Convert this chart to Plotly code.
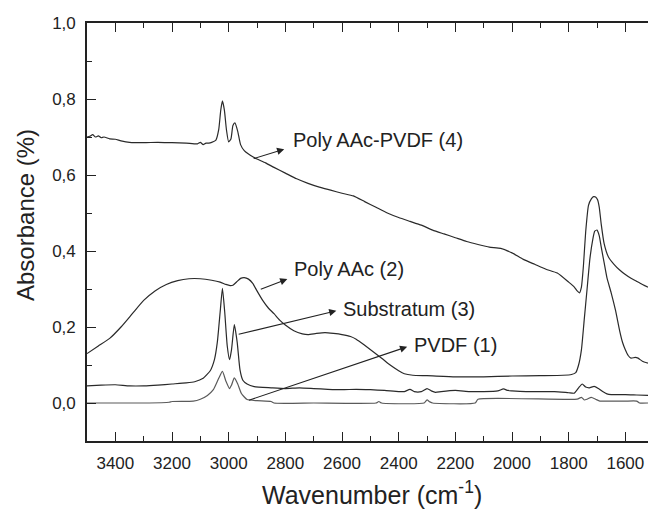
import plotly.graph_objects as go

# ---------------- data ----------------
pvdf_wn = [3500, 3300, 3210, 3200, 3125, 3100, 3075, 3054, 3035, 3022, 3010, 2997, 2990, 2980, 2968,
           2955, 2935, 2900, 2850, 2840, 2700, 2480, 2470, 2460, 2310, 2300, 2290, 2280, 2130, 2120,
           1770, 1755, 1745, 1735, 1720, 1705, 1690, 1650, 1600, 1560, 1550, 1520]
pvdf_ab = [0.0, 0.0, 0.002, 0.004, 0.005, 0.01, 0.02, 0.035, 0.065, 0.083, 0.058, 0.038, 0.047, 0.066, 0.05,
           0.025, 0.009, 0.006, 0.004, 0.0, 0.0, 0.0, 0.004, 0.0, 0.0, 0.008, 0.003, 0.0, 0.0, 0.01,
           0.01, 0.015, 0.008, 0.01, 0.015, 0.01, 0.005, 0.005, 0.005, 0.005, 0.0, 0.0]

paac_wn = [3500, 3460, 3420, 3380, 3340, 3300, 3260, 3220, 3180, 3140, 3100, 3060, 3030, 3010, 2995,
           2985, 2970, 2958, 2945, 2930, 2915, 2900, 2880, 2860, 2840, 2820, 2800, 2770, 2740, 2720,
           2690, 2660, 2630, 2600, 2570, 2550, 2520, 2490, 2460, 2430, 2400, 2380, 2350, 2300, 2200,
           2100, 2000, 1900, 1820, 1790, 1775, 1765, 1755, 1745, 1735, 1725, 1715, 1708, 1700, 1692,
           1685, 1675, 1665, 1650, 1635, 1620, 1610, 1600, 1590, 1580, 1565, 1555, 1540, 1520]
paac_ab = [0.13, 0.15, 0.17, 0.20, 0.235, 0.27, 0.295, 0.312, 0.322, 0.327, 0.327, 0.323, 0.318, 0.312, 0.309,
           0.31, 0.32, 0.328, 0.33, 0.326, 0.315, 0.295, 0.27, 0.25, 0.235, 0.218, 0.205, 0.19, 0.182, 0.18,
           0.183, 0.185, 0.183, 0.18, 0.175, 0.168, 0.152, 0.135, 0.118, 0.1, 0.085, 0.077, 0.073, 0.072, 0.069,
           0.069, 0.071, 0.072, 0.073, 0.075, 0.08, 0.1, 0.14, 0.22, 0.3, 0.38, 0.43, 0.452, 0.455, 0.44,
           0.41, 0.37, 0.33, 0.29, 0.245, 0.19, 0.16, 0.14, 0.125, 0.118, 0.12, 0.118, 0.11, 0.105]

sub_wn = [3500, 3450, 3400, 3350, 3300, 3250, 3200, 3150, 3120, 3090, 3065, 3050, 3040, 3030, 3022,
          3014, 3005, 2997, 2990, 2980, 2970, 2960, 2950, 2935, 2910, 2850, 2800, 2750, 2700, 2650,
          2600, 2550, 2500, 2450, 2400, 2380, 2360, 2345, 2320, 2300, 2285, 2270, 2250, 2200, 2150,
          2100, 2050, 2030, 2015, 2000, 1950, 1900, 1850, 1800, 1780, 1765, 1752, 1740, 1727, 1710,
          1695, 1680, 1665, 1650, 1600, 1560, 1520]
sub_ab = [0.045, 0.047, 0.048, 0.045, 0.045, 0.047, 0.05, 0.053, 0.056, 0.065, 0.085, 0.115, 0.16, 0.24, 0.302,
          0.24, 0.15, 0.114, 0.14, 0.206, 0.16, 0.087, 0.06, 0.05, 0.043, 0.04, 0.038, 0.04, 0.038, 0.036,
          0.035, 0.036, 0.035, 0.033, 0.03, 0.03, 0.036, 0.03, 0.03, 0.038, 0.032, 0.028, 0.03, 0.033, 0.03,
          0.03, 0.032, 0.037, 0.033, 0.032, 0.03, 0.03, 0.03, 0.027, 0.026, 0.04, 0.05, 0.042, 0.04, 0.044,
          0.038, 0.03, 0.024, 0.022, 0.022, 0.021, 0.02]

pap_wn = [3500, 3490, 3480, 3470, 3460, 3450, 3440, 3420, 3400, 3380, 3350, 3300, 3250, 3200, 3150,
          3110, 3100, 3090, 3080, 3070, 3060, 3045, 3035, 3028, 3022, 3015, 3008, 3000, 2992, 2985,
          2978, 2968, 2958, 2945, 2930, 2915, 2900, 2870, 2840, 2800, 2760, 2720, 2680, 2640, 2600,
          2560, 2520, 2480, 2440, 2400, 2360, 2320, 2280, 2240, 2200, 2160, 2120, 2080, 2040, 2000,
          1960, 1920, 1880, 1840, 1800, 1780, 1770, 1762, 1755, 1748, 1740, 1730, 1720, 1712, 1705,
          1698, 1692, 1685, 1675, 1660, 1640, 1620, 1600, 1580, 1560, 1540, 1520]
pap_ab = [0.70, 0.702, 0.706, 0.70, 0.703, 0.698, 0.70, 0.695, 0.694, 0.69, 0.686, 0.685, 0.686, 0.685, 0.684,
          0.682, 0.686, 0.68, 0.684, 0.684, 0.686, 0.692, 0.72, 0.77, 0.795, 0.77, 0.72, 0.687, 0.695, 0.73,
          0.737, 0.715, 0.68, 0.664, 0.655, 0.648, 0.642, 0.632, 0.62, 0.605, 0.59, 0.578, 0.568, 0.56, 0.552,
          0.545, 0.53, 0.515, 0.5, 0.488, 0.478, 0.468, 0.455, 0.445, 0.435, 0.425, 0.417, 0.41, 0.407, 0.395,
          0.378, 0.365, 0.352, 0.342, 0.318, 0.305, 0.295, 0.29, 0.305, 0.36, 0.45, 0.52, 0.537, 0.543, 0.542,
          0.535, 0.515, 0.47, 0.42, 0.385, 0.365, 0.35, 0.338, 0.328, 0.32, 0.312, 0.305]

series = [
    ("PVDF (1)", pvdf_wn, pvdf_ab, "#5a5a5a"),
    ("Substratum (3)", sub_wn, sub_ab, "#2a2a2a"),
    ("Poly AAc (2)", paac_wn, paac_ab, "#2a2a2a"),
    ("Poly AAc-PVDF (4)", pap_wn, pap_ab, "#2a2a2a"),
]

# label text, text anchor (wn, abs), arrow tail (wn, abs), arrow head (wn, abs)
labels = [
    ("Poly AAc-PVDF (4)", (2779, 0.692), (2917, 0.642), (2804, 0.668)),
    ("Poly AAc (2)", (2777, 0.352), (2892, 0.298), (2793, 0.326)),
    ("Substratum (3)", (2603, 0.247), (2970, 0.180), (2620, 0.2425)),
    ("PVDF (1)", (2352, 0.153), (2934, 0.006), (2370, 0.148)),
]

x_ticks = [3400, 3200, 3000, 2800, 2600, 2400, 2200, 2000, 1800, 1600]
y_ticks = [0.0, 0.2, 0.4, 0.6, 0.8, 1.0]

FONT = "Liberation Sans, Arial, sans-serif"
INK = "#222222"

W, H = 648, 514
ML, MR, MT, MB = 87, 0, 23, 73
pw, ph = W - ML - MR, H - MT - MB

fig = go.Figure()
for name, wn, ab, col in series:
    fig.add_trace(go.Scatter(x=wn, y=ab, mode="lines", name=name,
                             line=dict(color=col, width=1.2, shape="spline", smoothing=0.5),
                             showlegend=False, hoverinfo="skip"))

for text, (tx, ty), (ax_, ay_), (hx, hy) in labels:
    fig.add_annotation(x=hx, y=hy, ax=ax_, ay=ay_, xref="x", yref="y", axref="x", ayref="y",
                       text=" ", showarrow=True, arrowhead=2, arrowsize=1.3, arrowwidth=1.1,
                       arrowcolor=INK, font=dict(size=1))
    fig.add_annotation(x=tx, y=ty, xref="x", yref="y", text=text, showarrow=False,
                       xanchor="left", yanchor="middle",
                       font=dict(family=FONT, size=20, color=INK))

# axis titles as paper annotations placed in pixel terms
fig.add_annotation(x=(372 - ML) / pw, y=(H - MB - 493) / ph, xref="paper", yref="paper",
                   text="Wavenumber (cm<sup>-1</sup>)", showarrow=False,
                   xanchor="center", yanchor="middle",
                   font=dict(family=FONT, size=25, color=INK))
fig.add_annotation(x=(26 - ML) / pw, y=(H - MB - 215) / ph, xref="paper", yref="paper",
                   text="Absorbance (%)", showarrow=False, textangle=-90,
                   xanchor="center", yanchor="middle",
                   font=dict(family=FONT, size=24, color=INK))

fig.update_layout(
    width=W, height=H,
    margin=dict(l=ML, r=MR, t=MT, b=MB, pad=0),
    paper_bgcolor="white", plot_bgcolor="white",
    separators=",.",
    font=dict(family=FONT, color=INK),
    xaxis=dict(range=[3500, 1520], tickvals=x_ticks, ticks="inside", ticklen=9, tickwidth=1.4,
               tickcolor=INK, showline=True, linecolor=INK, linewidth=1.6, mirror="ticks",
               showgrid=False, zeroline=False, tickfont=dict(family=FONT, size=17, color=INK),
               minor=dict(dtick=100, tick0=3500, ticks="inside", ticklen=5, tickwidth=1.4, tickcolor=INK,
                          showgrid=False),
               ticklabelstandoff=6),
    yaxis=dict(range=[-0.1, 1.0], tickvals=y_ticks, tickformat=".1f", ticks="inside", ticklen=9,
               tickwidth=1.4, tickcolor=INK, showline=True, linecolor=INK, linewidth=1.6, mirror=False,
               showgrid=False, zeroline=False, tickfont=dict(family=FONT, size=17, color=INK),
               minor=dict(dtick=0.1, tick0=0, ticks="inside", ticklen=5, tickwidth=1.4, tickcolor=INK,
                          showgrid=False),
               ticklabelstandoff=6),
)

fig.write_html("out.html")
